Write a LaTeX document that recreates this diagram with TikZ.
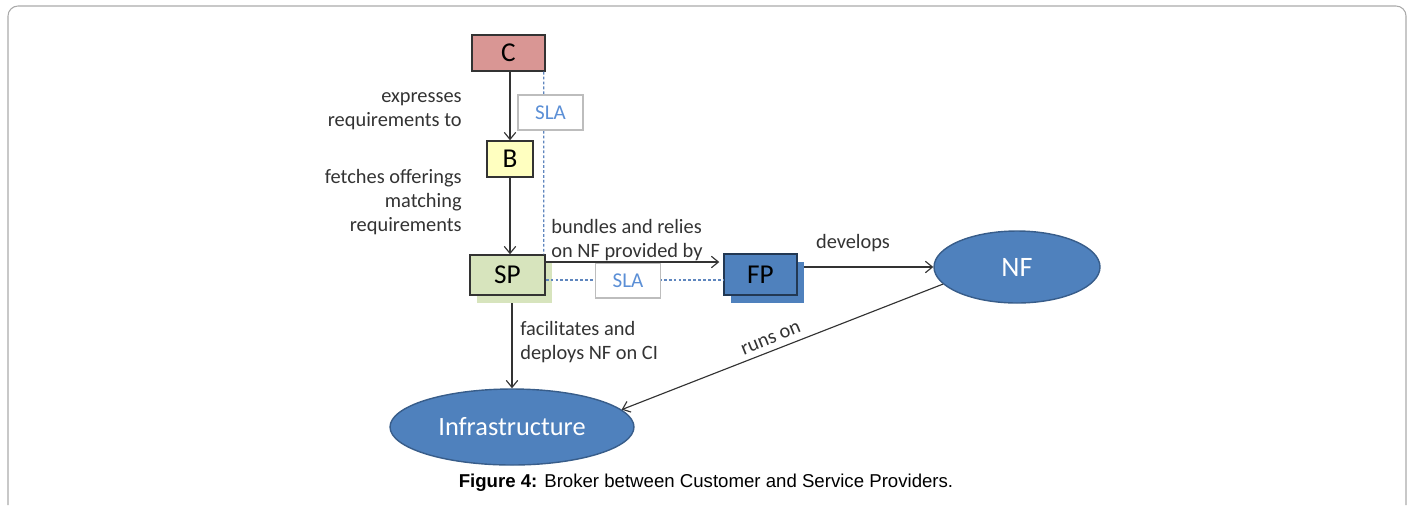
\documentclass[tikz,border=0pt]{standalone}
\usepackage{fontspec}
\setmainfont{Carlito}
\newfontfamily\capfont{Liberation Sans}
\usetikzlibrary{arrows.meta,shapes.geometric,calc}

\definecolor{cfill}{HTML}{D99694}
\definecolor{bfill}{HTML}{FFFFC0}
\definecolor{spfill}{HTML}{D7E4BD}
\definecolor{bluefill}{HTML}{4F81BD}
\definecolor{blueedge}{HTML}{385D8A}
\definecolor{slatext}{HTML}{5B8FD6}
\definecolor{slaedge}{HTML}{BDBDBD}
\definecolor{slaline}{HTML}{5F86BE}
\definecolor{linecol}{HTML}{333333}
\definecolor{framecol}{HTML}{AAAAAA}

\tikzset{
  box/.style={draw=linecol, line width=0.8pt, inner sep=0pt, font=\fontsize{15.5}{18}\selectfont},
  shadowbox/.style={inner sep=0pt, draw=none},
  ell/.style={ellipse, draw=blueedge, line width=0.8pt, fill=bluefill, text=white, inner sep=0pt},
  slabox/.style={draw=slaedge, line width=0.6pt, fill=white, text=slatext, inner sep=0pt,
    minimum width=1.3cm, minimum height=0.7cm, font=\fontsize{12}{14}\selectfont},
  lbl/.style={inner sep=0pt, text=linecol, font=\fontsize{11.6}{13.6}\selectfont},
  arr/.style={draw=linecol, line width=0.65pt, -{Straight Barb[length=4pt,width=6.5pt]}},
  sla/.style={draw=slaline, line width=0.65pt, dash pattern=on 1.6pt off 1.2pt},
}

\begin{document}
\begin{tikzpicture}[x=0.02cm, y=-0.02cm]
\useasboundingbox (0,0) rectangle (1412,505);

% page frame, open at the bottom
\draw[framecol, line width=0.6pt] (8,505) -- (8,16) arc[start angle=180, end angle=90, radius=0.2cm]
  -- (1396,6) arc[start angle=90, end angle=0, radius=0.2cm] -- (1406,505);

% actors
\node[box, fill=cfill, minimum width=1.46cm, minimum height=0.72cm] (C) at (508.5,53) {C};
\node[box, fill=bfill, minimum width=0.92cm, minimum height=0.72cm] (B) at (510,159) {B};

\node[shadowbox, fill=spfill, minimum width=1.5cm, minimum height=0.8cm] (SPs) at (514.5,283) {};
\node[box, fill=spfill, minimum width=1.5cm, minimum height=0.8cm] (SP) at (507.5,275) {SP};

\node[shadowbox, fill=bluefill, minimum width=1.46cm, minimum height=0.82cm] (FPs) at (767.5,282.5) {};
\node[box, fill=bluefill, draw=blueedge!60!black, minimum width=1.46cm, minimum height=0.82cm] (FP) at (760.5,274.5) {FP};

\node[ell, minimum width=3.32cm, minimum height=1.44cm, font=\fontsize{16}{18}\selectfont] (NF) at (1017,267) {NF};
\node[ell, minimum width=4.88cm, minimum height=1.52cm, font=\fontsize{15}{18}\selectfont] (Infra) at (512,427) {Infrastructure};

% SLA links
\draw[sla] ([xshift=-0.04cm]C.south east) -- ([xshift=-0.04cm]SP.north east);
\draw[sla] ([yshift=-0.1cm]SP.east) -- ([yshift=-0.1cm]SP.east -| FP.west);
\node[slabox] (sla1) at (550.5,112.5) {SLA};
\node[slabox] (sla2) at (628,280.5) {SLA};

% relations
\draw[arr] (B.north |- C.south) -- (B.north);
\draw[arr] (B.south) -- (B.south |- SP.north);
\draw[arr] ([yshift=0.26cm]SP.east) -- ([yshift=0.26cm,xshift=-0.08cm]SP.east -| FP.west);
\draw[arr] (FPs.east |- NF.west) -- (NF.west);
\draw[arr] (Infra.north |- SPs.south) -- (Infra.north);
\draw[arr] (NF.193) -- (Infra.9);

% labels
\node[lbl, anchor=east, align=right] (l1) at (462,111) {expresses\\requirements to};
\node[lbl, anchor=east, align=right] (l2) at (462,202) {fetches offerings\\matching\\requirements};
\node[lbl, anchor=west, align=left] (l3) at (551,240) {bundles and relies\\on NF provided by};
\node[lbl] (l4) at (853,243) {develops};
\node[lbl, anchor=west, align=left] (l5) at (520,342) {facilitates and\\deploys NF on CI};
\node[lbl, rotate=22] (l6) at (771,339) {runs on};

% caption
\node[inner sep=0pt, font=\capfont\fontsize{10.6}{12}\selectfont] (cap) at (706,483)
  {\textbf{Figure 4:} Broker between Customer and Service Providers.};
\end{tikzpicture}
\end{document}
